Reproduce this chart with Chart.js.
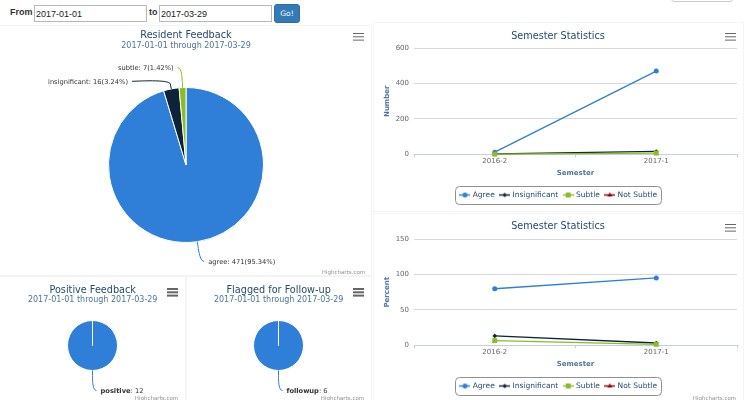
<!DOCTYPE html>
<html>
<head>
<meta charset="utf-8">
<script src="https://cdn.jsdelivr.net/npm/chart.js@4/dist/chart.umd.min.js"></script>
<style>
  html, body { margin: 0; padding: 0; background: #fff; }
  body { width: 746px; height: 400px; overflow: hidden; position: relative; font-family: "DejaVu Sans", sans-serif; }
  .panel { position: absolute; border: 1px solid #f4f4f4; box-sizing: border-box; }
  .form { position: absolute; font-family: "Liberation Sans", Arial, sans-serif; }
  .lbl { position: absolute; font-weight: bold; font-size: 9px; color: #333; line-height: 17px; }
  .inp { position: absolute; box-sizing: border-box; height: 17px; border: 1px solid #b8b8b8; font-family: "Liberation Sans", Arial, sans-serif; font-size: 9px; padding: 0 1px; color: #222; background: #fff; }
  .btn { position: absolute; left: 274px; top: 4px; width: 26px; height: 19px; background: #337ab7; border: 1px solid #2e6da4; border-radius: 3px; box-sizing: border-box; color: #fff; font-size: 7.5px; line-height: 17px; text-align: center; }
  .txt { position: absolute; width: 300px; text-align: center; white-space: nowrap; line-height: 1.2; transform: translateY(-50%); }
  .title { color: #274b6d; font-size: 9.7px; }
  .sub { color: #4d759e; font-size: 8px; }
  .credit { color: #909090; font-size: 5.5px; }
  .menu { position: absolute; width: 11px; height: 1.7px; background: #666; box-shadow: 0 3.3px 0 #666, 0 6.6px 0 #666; }
  .chartbox { position: absolute; }
</style>
</head>
<body>

<div class="panel" style="left:-1px;top:25px;width:373px;height:251px"></div>
<div class="panel" style="left:373px;top:22px;width:371px;height:190px"></div>
<div class="panel" style="left:373px;top:213px;width:371px;height:190px"></div>
<div class="panel" style="left:-1px;top:276px;width:187px;height:130px"></div>
<div class="panel" style="left:186px;top:276px;width:186px;height:130px"></div>
<div style="position:absolute;left:671px;top:-20px;width:62px;height:22px;border:1px solid #ccc;border-radius:3px;box-sizing:border-box"></div>

<div class="form">
  <span class="lbl" style="left:10px;top:4px">From</span>
  <input class="inp" style="left:34px;top:5px;width:113px" value="2017-01-01">
  <span class="lbl" style="left:149px;top:4px">to</span>
  <input class="inp" style="left:159px;top:5px;width:113px" value="2017-03-29">
</div>
<div class="btn">Go!</div>

<div class="chartbox" style="left:0;top:25px"><canvas id="feedback" width="372" height="250"></canvas></div>
<div class="chartbox" style="left:375px;top:22px"><canvas id="semNumber" width="371" height="190"></canvas></div>
<div class="chartbox" style="left:375px;top:213px"><canvas id="semPercent" width="371" height="190"></canvas></div>
<div class="chartbox" style="left:0;top:275px"><canvas id="positive" width="185" height="125"></canvas></div>
<div class="chartbox" style="left:186px;top:275px"><canvas id="followup" width="185" height="125"></canvas></div>

<div class="menu" style="left:353px;top:32.5px"></div>
<div class="menu" style="left:725px;top:32.5px"></div>
<div class="menu" style="left:725px;top:223.5px"></div>
<div class="menu" style="left:167px;top:288px"></div>
<div class="menu" style="left:353px;top:288px"></div>

<script>
// Resident feedback pie
const feedbackLabels = ['agree', 'insignificant', 'subtle'];
const feedbackCounts = [471, 16, 7];
// small pies
const positiveLabels = ['positive'];
const positiveCounts = [12];
const followupLabels = ['followup'];
const followupCounts = [6];

// Semester statistics
const semesters = ['2016-2', '2017-1'];
const seriesNames = ['Agree', 'Insignificant', 'Subtle', 'Not Subtle'];
const agreeNumber = [12, 471];
const insignificantNumber = [2, 16];
const subtleNumber = [1, 7];
const notSubtleNumber = [null, null];
const agreePercent = [80, 95.34];
const insignificantPercent = [13.33, 3.24];
const subtlePercent = [6.67, 1.42];
const notSubtlePercent = [null, null];
const numberTicks = [0, 200, 400, 600];
const percentTicks = [0, 50, 100, 150];

const palette = ['#2f7ed8', '#0d233a', '#8bbc21', '#910000'];
const markers = ['circle', 'rectRot', 'rect', 'triangle'];
const markerSize = [2.5, 2.3, 3.5, 2.8];

Chart.defaults.font.family = 'DejaVu Sans';

function addText(text, cx, cy, cls) {
  const d = document.createElement('div');
  d.className = 'txt ' + cls;
  d.textContent = text;
  d.style.left = (cx - 150) + 'px';
  d.style.top = cy + 'px';
  document.body.appendChild(d);
}

// pie data labels with soft connectors
function pieLabelPlugin(format) {
  return {
    id: 'pieLabels',
    afterDatasetsDraw(chart) {
      const ctx = chart.ctx;
      const ds = chart.data.datasets[0];
      const total = ds.data.reduce((s, v) => s + v, 0);
      const items = chart.getDatasetMeta(0).data.map((arc, i) => {
        const p = arc.getProps(['x', 'y', 'startAngle', 'endAngle', 'outerRadius'], true);
        const a = (p.startAngle + p.endAngle) / 2;
        const R = p.outerRadius + 20;
        return { i, a, p, R, left: Math.cos(a) < 0, y: p.y + R * Math.sin(a) };
      });
      [true, false].forEach(side => {
        const group = items.filter(it => it.left === side).sort((m, n) => m.y - n.y);
        for (let k = 1; k < group.length; k++) {
          if (group[k].y < group[k - 1].y + 13.7) group[k].y = group[k - 1].y + 13.7;
        }
      });
      items.forEach(it => {
        const { p, a, R } = it;
        const dy = it.y - p.y;
        const sgn = it.left ? -1 : 1;
        const x = p.x + sgn * Math.sqrt(Math.max(0, R * R - dy * dy));
        const x2 = p.x + Math.cos(a) * (p.outerRadius + 5);
        const y2 = p.y + Math.sin(a) * (p.outerRadius + 5);
        const x3 = p.x + Math.cos(a) * p.outerRadius;
        const y3 = p.y + Math.sin(a) * p.outerRadius;
        ctx.save();
        ctx.strokeStyle = ds.backgroundColor[it.i];
        ctx.lineWidth = 1;
        ctx.beginPath();
        ctx.moveTo(x + sgn * 4, it.y);
        ctx.bezierCurveTo(x, it.y, 2 * x2 - x3, 2 * y2 - y3, x2, y2);
        ctx.lineTo(x3, y3);
        ctx.stroke();

        const parts = format(chart.data.labels[it.i], ds.data[it.i], total);
        const fontOf = b => (b ? 'bold ' : '') + '6.7px "DejaVu Sans"';
        let w = 0;
        parts.forEach(pt => { ctx.font = fontOf(pt.bold); pt.w = ctx.measureText(pt.t).width; w += pt.w; });
        let tx = it.left ? x - 8 - w : x + 8;
        ctx.fillStyle = '#333';
        ctx.textBaseline = 'middle';
        ctx.textAlign = 'left';
        parts.forEach(pt => { ctx.font = fontOf(pt.bold); ctx.fillText(pt.t, tx, it.y + 1); tx += pt.w; });
        ctx.restore();
      });
    }
  };
}

function pieChart(id, labels, values, colors, padding, format) {
  return new Chart(document.getElementById(id), {
    type: 'pie',
    data: {
      labels: labels,
      datasets: [{ data: values, backgroundColor: colors, borderColor: '#ffffff', borderWidth: 1 }]
    },
    options: {
      responsive: false,
      animation: false,
      devicePixelRatio: 1,
      layout: { padding: padding },
      plugins: { legend: { display: false }, tooltip: { enabled: false } }
    },
    plugins: [pieLabelPlugin(format)]
  });
}

pieChart('feedback', feedbackLabels, feedbackCounts, palette.slice(0, 3),
  { top: 62, bottom: 32, left: 0, right: 0 },
  (name, v, total) => [{ t: name + ': ' + v + '(' + (v / total * 100).toFixed(2) + '%)', bold: false }]);
pieChart('positive', positiveLabels, positiveCounts, [palette[0]],
  { top: 45, bottom: 29, left: 0, right: 0 },
  (name, v) => [{ t: name, bold: true }, { t: ': ' + v, bold: false }]);
pieChart('followup', followupLabels, followupCounts, [palette[0]],
  { top: 45, bottom: 29, left: 0, right: 0 },
  (name, v) => [{ t: name, bold: true }, { t: ': ' + v, bold: false }]);

// legend icons: line with the series marker
function legendIcon(color, marker, r) {
  const c = document.createElement('canvas');
  c.width = 11; c.height = 7;
  const g = c.getContext('2d');
  g.strokeStyle = color; g.fillStyle = color; g.lineWidth = 1.4;
  g.beginPath(); g.moveTo(0, 3.5); g.lineTo(11, 3.5); g.stroke();
  Chart.helpers.drawPoint(g, { pointStyle: marker, radius: r, borderWidth: 0, rotation: 0 }, 5.5, 3.5);
  return c;
}
const icons = seriesNames.map((n, i) => legendIcon(palette[i], markers[i], markerSize[i]));

const legendFrame = {
  id: 'legendFrame',
  afterDraw(chart) {
    const boxes = chart.legend.legendHitBoxes;
    if (!boxes || !boxes.length) return;
    const left = Math.min(...boxes.map(b => b.left)) - 6;
    const right = Math.max(...boxes.map(b => b.left + b.width)) + 4;
    const cy = boxes[0].top + boxes[0].height / 2;
    const ctx = chart.ctx;
    ctx.save();
    ctx.strokeStyle = '#909090';
    ctx.lineWidth = 1;
    ctx.beginPath();
    ctx.roundRect(Math.round(left) + 0.5, Math.round(cy - 9) + 0.5, Math.round(right - left), 18, 4);
    ctx.stroke();
    ctx.restore();
  }
};

function lineChart(id, yTitle, series, ticks) {
  return new Chart(document.getElementById(id), {
    type: 'line',
    data: {
      labels: semesters,
      datasets: series.map((data, i) => ({
        label: seriesNames[i],
        data: data,
        borderColor: palette[i],
        backgroundColor: palette[i],
        borderWidth: 1.3,
        pointStyle: markers[i],
        pointRadius: markerSize[i],
        pointBorderWidth: 0,
        tension: 0,
        order: series.length - i,
        clip: false
      }))
    },
    options: {
      responsive: false,
      animation: false,
      devicePixelRatio: 1,
      layout: { padding: { top: 26.3, left: 6, right: 9, bottom: 3.25 } },
      plugins: {
        tooltip: { enabled: false },
        legend: {
          position: 'bottom',
          labels: {
            usePointStyle: true,
            pointStyleWidth: 8,
            padding: 6,
            color: '#274b6d',
            font: { size: 7.5 },
            generateLabels: () => seriesNames.map((name, i) => ({
              text: name, pointStyle: icons[i], fillStyle: palette[i], strokeStyle: palette[i],
              lineWidth: 0, hidden: false, datasetIndex: i, fontColor: '#274b6d'
            }))
          }
        }
      },
      scales: {
        x: {
          offset: true,
          grid: { drawOnChartArea: false, drawTicks: true, tickLength: 3, color: '#C0D0E0', offset: true },
          border: { color: '#C0D0E0' },
          ticks: { color: '#666', font: { size: 7 }, padding: 0, maxRotation: 0 },
          title: { display: true, text: 'Semester', color: '#4d759e', font: { size: 7, weight: 'bold' }, padding: { top: 0, bottom: 7.75 } },
          afterFit: s => { s.height = 30.95; }
        },
        y: {
          min: ticks[0],
          max: ticks[ticks.length - 1],
          ticks: { stepSize: ticks[1] - ticks[0], color: '#666', font: { size: 7 }, padding: 5 },
          grid: { color: '#D8D8D8', drawTicks: false },
          border: { display: false },
          title: { display: true, text: yTitle, color: '#4d759e', font: { size: 7, weight: 'bold' }, padding: { top: 2.3, bottom: 0 } },
          afterFit: s => { s.width = 33; }
        }
      }
    },
    plugins: [legendFrame]
  });
}

lineChart('semNumber', 'Number', [agreeNumber, insignificantNumber, subtleNumber, notSubtleNumber], numberTicks);
lineChart('semPercent', 'Percent', [agreePercent, insignificantPercent, subtlePercent, notSubtlePercent], percentTicks);

// titles and credits
addText('Resident Feedback', 186, 35, 'title');
addText('2017-01-01 through 2017-03-29', 186, 46, 'sub');
addText('Semester Statistics', 558, 35.7, 'title');
addText('Semester Statistics', 558, 226, 'title');
addText('Positive Feedback', 92.7, 290, 'title');
addText('2017-01-01 through 2017-03-29', 92.7, 300.3, 'sub');
addText('Flagged for Follow-up', 278.7, 290, 'title');
addText('2017-01-01 through 2017-03-29', 278.7, 300.3, 'sub');
addText('Highcharts.com', 343.5, 272, 'credit');
addText('Highcharts.com', 156.5, 398, 'credit');
addText('Highcharts.com', 342.5, 398, 'credit');
addText('Highcharts.com', 714.5, 398, 'credit');
</script>
</body>
</html>
